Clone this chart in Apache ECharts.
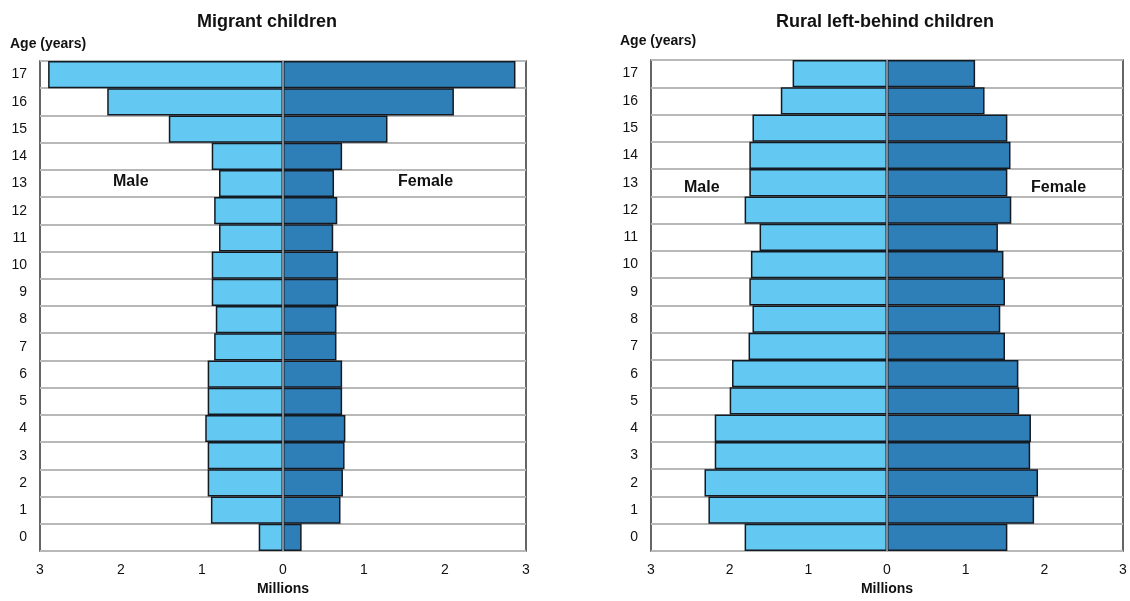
<!DOCTYPE html>
<html><head><meta charset="utf-8">
<script src="https://cdn.jsdelivr.net/npm/echarts@6/dist/echarts.min.js"></script>
<style>html,body{margin:0;padding:0;background:#fff}#c{width:1130px;height:601px}</style>
</head><body><div id="c"></div>
<script>
var ages = ['0','1','2','3','4','5','6','7','8','9','10','11','12','13','14','15','16','17'];
var xTicks = [-3,-2,-1,0,1,2,3];
var migrantMale   = [0.30,0.89,0.93,0.93,0.96,0.93,0.93,0.85,0.83,0.88,0.88,0.79,0.85,0.79,0.88,1.41,2.17,2.90];
var migrantFemale = [0.23,0.71,0.74,0.76,0.77,0.73,0.73,0.66,0.66,0.68,0.68,0.62,0.67,0.63,0.73,1.29,2.11,2.87];
var ruralMale     = [1.81,2.27,2.32,2.19,2.19,2.00,1.97,1.76,1.71,1.75,1.73,1.62,1.81,1.75,1.75,1.71,1.35,1.20];
var ruralFemale   = [1.53,1.87,1.92,1.82,1.83,1.68,1.67,1.50,1.44,1.50,1.48,1.41,1.58,1.53,1.57,1.53,1.24,1.12];

var FONT = '"Liberation Sans", Arial, sans-serif';
var MALE_C = '#63c8f2', FEMALE_C = '#2e7eb8';

function xAxisFor(i){
  return {
    gridIndex:i, type:'value', min:xTicks[0], max:xTicks[xTicks.length-1], interval:1,
    name:'Millions', nameLocation:'middle', nameGap:31,
    nameTextStyle:{fontFamily:FONT,fontWeight:'bold',fontSize:14,color:'#111'},
    axisLabel:{formatter:function(v){return Math.abs(v);},fontFamily:FONT,fontSize:14,color:'#111',margin:12},
    axisLine:{show:false}, axisTick:{show:false}, splitLine:{show:false}
  };
}
function yAxisFor(i){
  return {
    gridIndex:i, type:'category', data:ages,
    axisLabel:{fontFamily:FONT,fontSize:14,color:'#111',margin:13},
    axisLine:{show:false,onZero:false}, axisTick:{show:false},
    splitLine:{show:true,lineStyle:{color:'#b8b8b8',width:2}}
  };
}
function barSeries(i, vals, sign, color, withLine){
  var s = {
    type:'bar', xAxisIndex:i, yAxisIndex:i,
    data: vals.map(function(v){return sign*v;}),
    barCategoryGap:'0%', barGap:'-100%',
    itemStyle:{color:color, borderColor:'#141a22', borderWidth:1.5},
    emphasis:{disabled:true}, z:2
  };
  if (withLine) {
    s.markLine = {silent:true, symbol:'none', label:{show:false},
      lineStyle:{color:'#7d8a96',width:2,type:'solid'}, data:[{xAxis:0}], z:5};
  }
  return s;
}
var chart = echarts.init(document.getElementById('c'), null, {renderer:'canvas'});
chart.setOption({
  animation:false,
  title:[
    {text:'Migrant children', left:262, top:8, textAlign:'center', textStyle:{fontFamily:FONT,fontWeight:'bold',fontSize:18,color:'#111'}},
    {text:'Rural left-behind children', left:880, top:8, textAlign:'center', textStyle:{fontFamily:FONT,fontWeight:'bold',fontSize:18,color:'#111'}}
  ],
  grid:[
    {left:40, top:61, width:486, height:491, show:true, borderColor:'#333', borderWidth:1.5, backgroundColor:'transparent'},
    {left:651, top:60, width:472, height:492, show:true, borderColor:'#333', borderWidth:1.5, backgroundColor:'transparent'}
  ],
  xAxis:[xAxisFor(0), xAxisFor(1)],
  yAxis:[yAxisFor(0), yAxisFor(1)],
  series:[
    barSeries(0, migrantMale, -1, MALE_C, false),
    barSeries(0, migrantFemale, 1, FEMALE_C, true),
    barSeries(1, ruralMale, -1, MALE_C, false),
    barSeries(1, ruralFemale, 1, FEMALE_C, true)
  ],
  graphic:[
    {type:'text', left:10, top:37, style:{text:'Age (years)', font:'bold 14px '+FONT, fill:'#111'}},
    {type:'text', left:620, top:34, style:{text:'Age (years)', font:'bold 14px '+FONT, fill:'#111'}},
    {type:'text', left:113, top:174, style:{text:'Male', font:'bold 16px '+FONT, fill:'#111'}},
    {type:'text', left:398, top:174, style:{text:'Female', font:'bold 16px '+FONT, fill:'#111'}},
    {type:'text', left:684, top:180, style:{text:'Male', font:'bold 16px '+FONT, fill:'#111'}},
    {type:'text', left:1031, top:180, style:{text:'Female', font:'bold 16px '+FONT, fill:'#111'}}
  ]
});
</script></body></html>
